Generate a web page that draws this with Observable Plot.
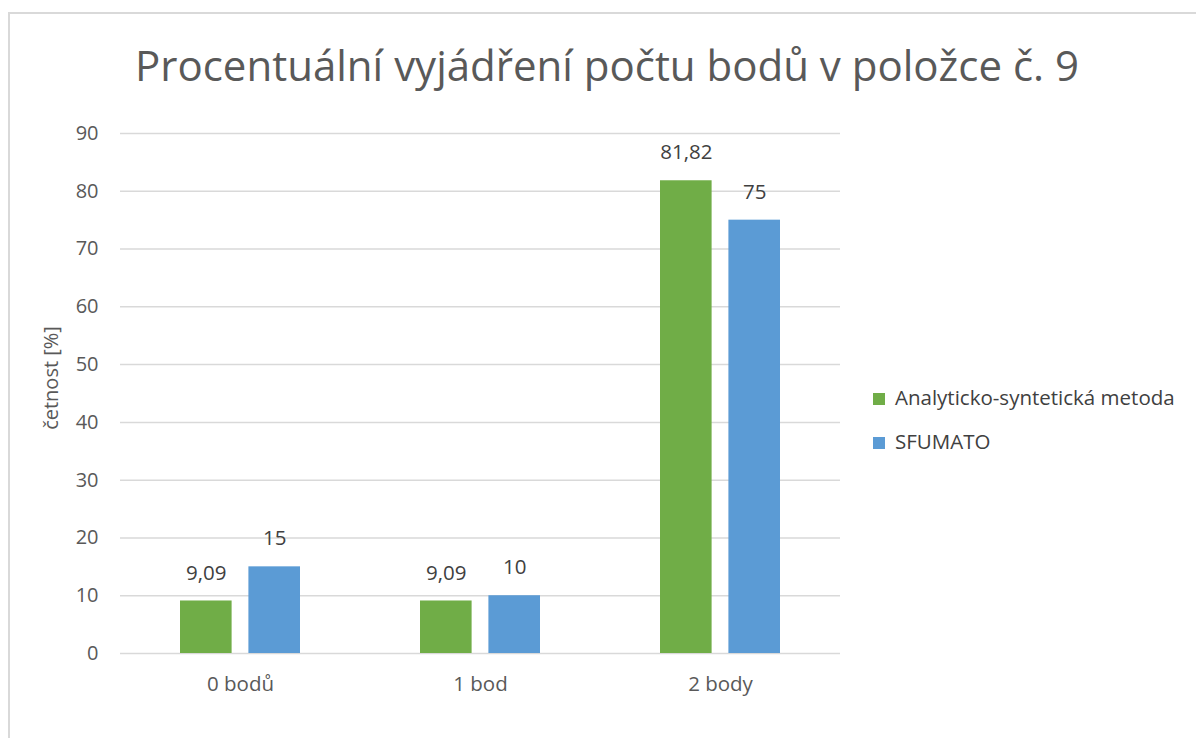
<!DOCTYPE html>
<html><head><meta charset="utf-8">
<script src="https://cdn.jsdelivr.net/npm/d3@7"></script>
<script src="https://cdn.jsdelivr.net/npm/@observablehq/plot@0.6"></script>
<style>
body{margin:0;background:#fff;}
#wrap{position:relative;width:1196px;height:738px;overflow:hidden;font-family:"Open Sans",sans-serif;background:#fff;}
#frame{position:absolute;left:8px;top:12px;width:1300px;height:900px;border:2px solid #d9d9d9;box-sizing:border-box;}
#chart{position:absolute;left:0;top:0;}
#title{position:absolute;left:607px;top:36px;transform:translateX(-50%);white-space:nowrap;font-size:42px;line-height:58px;color:#595959;}
#ylabel{position:absolute;left:50px;top:378px;transform:translate(-50%,-50%) rotate(-90deg);white-space:nowrap;font-size:20px;color:#595959;}
.leg{position:absolute;left:873px;font-size:20.5px;color:#404040;white-space:nowrap;line-height:26px;}
.leg span{display:inline-block;width:12px;height:12px;margin-right:10px;vertical-align:0px;}
</style></head>
<body>
<div id="wrap">
  <div id="frame"></div>
  <div id="chart"></div>
  <div id="title"></div>
  <div id="ylabel"></div>
  <div id="legend"></div>
</div>
<script>
const title = "Procentuální vyjádření počtu bodů v položce č. 9";
const yLabel = "četnost [%]";
const categories = ["0 bodů", "1 bod", "2 body"];
const seriesNames = ["Analyticko-syntetická metoda", "SFUMATO"];
const seriesColors = ["#70ad47", "#5b9bd5"];
const valuesAnalyticka = [9.09, 9.09, 81.82];
const valuesSfumato = [15, 10, 75];
const yTicks = [0, 10, 20, 30, 40, 50, 60, 70, 80, 90];

const barW = 0.215, gap = 0.07;
const seriesValues = [valuesAnalyticka, valuesSfumato];
const data = [];
categories.forEach((c, i) => {
  seriesNames.forEach((s, k) => {
    const x1 = i - gap / 2 - barW + k * (barW + gap);
    data.push({cat: c, i, series: s, value: seriesValues[k][i], x1, x2: x1 + barW,
      label: String(seriesValues[k][i]).replace(".", ",")});
  });
});

document.getElementById("title").textContent = title;
document.getElementById("ylabel").textContent = yLabel;
const leg = document.getElementById("legend");
seriesNames.forEach((s, k) => {
  const d = document.createElement("div");
  d.className = "leg";
  d.style.top = (384 + k * 44) + "px";
  d.innerHTML = `<span style="background:${seriesColors[k]}"></span>`;
  d.appendChild(document.createTextNode(s));
  leg.appendChild(d);
});

const chart = Plot.plot({
  width: 1196, height: 738,
  marginLeft: 120, marginRight: 356, marginTop: 133, marginBottom: 85,
  style: {fontFamily: "Open Sans, sans-serif", fontSize: "20px", background: "transparent"},
  x: {type: "linear", domain: [-0.5, 2.5], axis: null},
  y: {domain: [0, 90], axis: null},
  color: {domain: seriesNames, range: seriesColors},
  marks: [
    Plot.ruleY(yTicks, {stroke: "#d9d9d9", strokeWidth: 1.5}),
    Plot.rect(data, {x1: "x1", x2: "x2", y1: 0, y2: "value", fill: "series"}),
    Plot.text(data, {x: d => (d.x1 + d.x2) / 2, y: "value", text: "label", dy: -28, fill: "#404040", fontSize: 20.5}),
    Plot.axisY(yTicks, {tickSize: 0, tickPadding: 22, label: null, fill: "#595959", fontSize: 20}),
    Plot.axisX([0, 1, 2], {tickSize: 0, tickPadding: 23, label: null, tickFormat: i => categories[i], fill: "#595959", fontSize: 20.5})
  ]
});
document.getElementById("chart").appendChild(chart);
</script>
</body></html>
